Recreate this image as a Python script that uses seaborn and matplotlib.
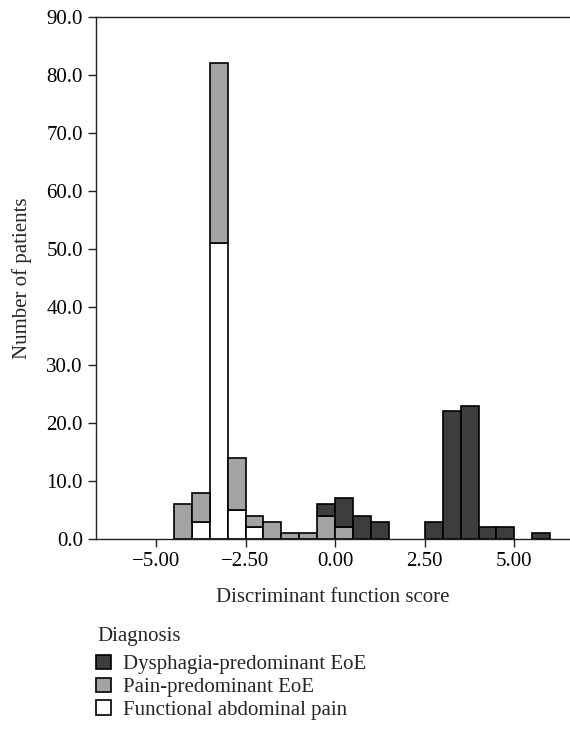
import pandas as pd
import numpy as np
import seaborn as sns
import matplotlib.pyplot as plt
from matplotlib.ticker import FuncFormatter

# bin lower edges (width 0.5) and counts per diagnosis
bin_left = [-4.5, -4.0, -3.5, -3.0, -2.5, -2.0, -1.5, -1.0, -0.5, 0.0, 0.5,
            1.0, 1.5, 2.0, 2.5, 3.0, 3.5, 4.0, 4.5, 5.0, 5.5]
dysphagia = [0, 0, 0, 0, 0, 0, 0, 0, 2, 5, 4, 3, 0, 0, 3, 22, 23, 2, 2, 0, 1]
pain = [6, 5, 31, 9, 2, 3, 1, 1, 4, 2, 0, 0, 0, 0, 0, 0, 0, 0, 0, 0, 0]
functional = [0, 3, 51, 5, 2, 0, 0, 0, 0, 0, 0, 0, 0, 0, 0, 0, 0, 0, 0, 0, 0]

groups = ["Dysphagia-predominant EoE", "Pain-predominant EoE", "Functional abdominal pain"]
colors = ["#3d3d3d", "#a3a3a3", "#ffffff"]

rows = []
for name, counts in zip(groups, [dysphagia, pain, functional]):
    for b, c in zip(bin_left, counts):
        rows.append([b + 0.25, c, name])
df = pd.DataFrame(rows, columns=["score", "n", "Diagnosis"])

sns.set_style("ticks")
plt.rcParams['font.family'] = ['Liberation Serif', 'DejaVu Serif']
fs = 15

fig = plt.figure(figsize=(5.7, 7.35), dpi=100)
ax = fig.add_axes([96 / 570, 1 - 539 / 735, 1 - 96 / 570, 522 / 735])

sns.histplot(data=df, x="score", weights="n", hue="Diagnosis", hue_order=groups,
             palette=dict(zip(groups, colors)), multiple="stack",
             binwidth=0.5, binrange=(-4.5, 6.0), alpha=1,
             edgecolor="black", linewidth=1.2, ax=ax)

# hide empty (zero height) bars so they don't darken the axis line
for p in ax.patches:
    if p.get_height() == 0:
        p.set_visible(False)

ax.set_xlim(-6.67, 6.55)
ax.set_ylim(0, 90)
ax.set_yticks([0, 10, 20, 30, 40, 50, 60, 70, 80, 90])
ax.set_xticks([-5, -2.5, 0, 2.5, 5])
ax.yaxis.set_major_formatter(FuncFormatter(lambda v, p: "%.1f" % v))
ax.xaxis.set_major_formatter(FuncFormatter(lambda v, p: ("%.2f" % v).replace("-", "\u2212")))
ax.tick_params(direction="out", length=6, width=1, colors="#222222", labelcolor="black",
               labelsize=fs)
ax.set_xlabel("Discriminant function score", fontsize=fs, labelpad=12)
ax.set_ylabel("Number of patients", fontsize=fs, labelpad=10)

for s in ["left", "bottom", "top"]:
    ax.spines[s].set_color("#222222")
    ax.spines[s].set_linewidth(1)
ax.spines["right"].set_visible(False)

sns.move_legend(ax, "upper left", bbox_to_anchor=(0.0, -0.222), frameon=False,
                title=None, fontsize=fs,
                handlelength=0.7, handleheight=0.7,
                handletextpad=0.6, labelspacing=0.15, borderpad=0, borderaxespad=0)
fig.text(97 / 570, 1 - 637 / 735, "Diagnosis", fontsize=fs, ha="left", va="center")

plt.savefig("out.png", dpi=100)
